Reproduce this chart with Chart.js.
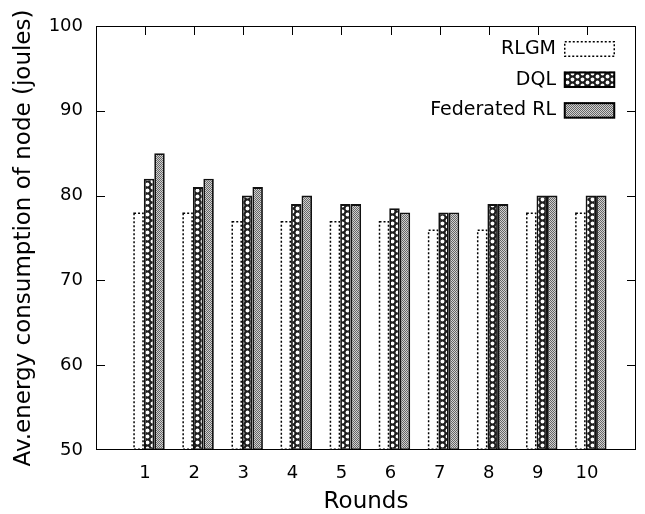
<!DOCTYPE html>
<html>
<head>
<meta charset="utf-8">
<script src="https://cdn.jsdelivr.net/npm/chart.js@4.4.1/dist/chart.umd.min.js"></script>
<style>
  html, body { margin: 0; padding: 0; background: #fff; }
  #wrap { width: 645px; height: 514px; }
</style>
</head>
<body>
<div id="wrap"><canvas id="chart" width="645" height="514"></canvas></div>
<script>
const rounds = [1, 2, 3, 4, 5, 6, 7, 8, 9, 10];
const rlgm = [78, 78, 77, 77, 77, 77, 76, 76, 78, 78];
const dql = [82, 81, 80, 79, 79, 78.5, 78, 79, 80, 80];
const federated = [85, 82, 81, 80, 79, 78, 78, 79, 80, 80];
const seriesNames = ["RLGM", "DQL", "Federated RL"];
const yTicks = [50, 60, 70, 80, 90, 100];

const canvas = document.getElementById("chart");
const ctx = canvas.getContext("2d");

function makePattern(w, h, draw) {
  const c = document.createElement("canvas");
  c.width = w;
  c.height = h;
  draw(c.getContext("2d"));
  return ctx.createPattern(c, "repeat");
}

// dark crosshatch with round holes
const crossPattern = makePattern(10, 6, g => {
  g.fillStyle = "#1c1c1c";
  g.fillRect(0, 0, 10, 6);
  g.fillStyle = "#fff";
  [[2.5, 1.5], [2.5, 7.5], [7.5, 4.5], [7.5, -1.5]].forEach(([cx, cy]) => {
    g.beginPath();
    g.arc(cx, cy, 1.9, 0, Math.PI * 2);
    g.fill();
  });
});

// fine checker gray
const checkPattern = makePattern(2, 2, g => {
  g.fillStyle = "#d0d0d0";
  g.fillRect(0, 0, 2, 2);
  g.fillStyle = "#666";
  g.fillRect(0, 0, 1, 1);
  g.fillRect(1, 1, 1, 1);
});

function points(values) {
  return values.map((v, i) => ({ x: rounds[i], y: v }));
}

const fills = ["#ffffff", crossPattern, checkPattern];

// frame, inward ticks, dotted RLGM outline, legend
const framePlugin = {
  id: "frame",
  beforeDatasetsDraw(chart) {
    const { ctx, chartArea: a, scales } = chart;
    ctx.save();
    ctx.strokeStyle = "#000";
    ctx.lineWidth = 1;
    ctx.beginPath();
    scales.y.ticks.forEach(t => {
      const py = Math.round(scales.y.getPixelForValue(t.value)) + 0.5;
      if (py < a.top + 2 || py > a.bottom - 2) return;
      ctx.moveTo(a.left, py); ctx.lineTo(a.left + 9, py);
      ctx.moveTo(a.right, py); ctx.lineTo(a.right - 9, py);
    });
    rounds.forEach(r => {
      const px = Math.round(scales.xt.getPixelForValue(r)) + 0.5;
      ctx.moveTo(px, a.top); ctx.lineTo(px, a.top + 9);
      ctx.moveTo(px, a.bottom); ctx.lineTo(px, a.bottom - 9);
    });
    ctx.stroke();
    ctx.restore();
  },
  afterDatasetsDraw(chart) {
    const { ctx, chartArea: a } = chart;
    ctx.save();
    ctx.strokeStyle = "#000";
    ctx.lineWidth = 1.5;
    ctx.setLineDash([2, 2]);
    chart.getDatasetMeta(0).data.forEach(bar => {
      const p = bar.getProps(["x", "y", "base", "width"], true);
      ctx.strokeRect(p.x - p.width / 2 + 0.75, p.y + 0.75, p.width - 1.5, p.base - p.y - 1.5);
    });
    ctx.setLineDash([]);
    ctx.lineWidth = 1;
    ctx.strokeRect(a.left + 0.5, a.top + 0.5, a.right - a.left - 1, a.bottom - a.top - 1);

    ctx.font = "19px 'DejaVu Sans'";
    ctx.textAlign = "right";
    ctx.textBaseline = "middle";
    chart.data.datasets.forEach((ds, i) => {
      const cy = a.top + 23 + i * 30.7;
      const bx = a.right - 72;
      ctx.fillStyle = "#000";
      ctx.fillText(ds.label, bx - 8, cy);
      ctx.fillStyle = fills[i];
      ctx.fillRect(bx, cy - 8, 51, 16);
      if (i === 0) {
        ctx.lineWidth = 1.5;
        ctx.setLineDash([2, 2]);
      } else {
        ctx.lineWidth = 2;
        ctx.setLineDash([]);
      }
      ctx.strokeRect(bx + 0.75, cy - 8 + 0.75, 49.5, 14.5);
      ctx.setLineDash([]);
    });
    ctx.restore();
  }
};

new Chart(canvas, {
  type: "bar",
  data: {
    datasets: [
      { label: seriesNames[0], data: points(rlgm), backgroundColor: fills[0], borderWidth: 0 },
      { label: seriesNames[1], data: points(dql), backgroundColor: fills[1], borderColor: "#111", borderWidth: 1.8 },
      { label: seriesNames[2], data: points(federated), backgroundColor: fills[2], borderColor: "#111", borderWidth: 1.8 }
    ]
  },
  options: {
    responsive: false,
    animation: false,
    layout: { padding: { top: 26, right: 9, left: 0, bottom: 0 } },
    datasets: {
      bar: { barPercentage: 1, categoryPercentage: 0.64, borderSkipped: false, base: 50 }
    },
    scales: {
      x: {
        type: "linear",
        display: false,
        offset: false,
        min: -0.08,
        max: 10.92
      },
      xt: {
        type: "linear",
        position: "bottom",
        offset: false,
        min: 0,
        max: 11,
        grid: { display: false, drawTicks: false },
        border: { display: false },
        afterFit: scale => {
          scale.height = 64;
          scale.paddingLeft = 0;
          scale.paddingRight = 0;
        },
        ticks: {
          stepSize: 1,
          padding: 13,
          color: "#000",
          font: { family: "DejaVu Sans", size: 18 },
          callback: v => (rounds.includes(v) ? String(v) : "")
        },
        title: {
          display: true,
          text: "Rounds",
          color: "#000",
          font: { family: "DejaVu Sans", size: 23 },
          padding: { top: 0, bottom: -2 }
        }
      },
      y: {
        min: 50,
        max: 100,
        grid: { display: false, drawTicks: false },
        border: { display: false },
        afterFit: scale => { scale.width = 96; },
        afterBuildTicks: scale => { scale.ticks = yTicks.map(v => ({ value: v })); },
        ticks: {
          padding: 13,
          color: "#000",
          font: { family: "DejaVu Sans", size: 18 }
        },
        title: {
          display: true,
          text: "Av.energy consumption of node (joules)",
          color: "#000",
          font: { family: "DejaVu Sans", size: 23 },
          padding: { top: 10, bottom: 0 }
        }
      }
    },
    plugins: {
      legend: { display: false },
      tooltip: { enabled: false }
    }
  },
  plugins: [framePlugin]
});
</script>
</body>
</html>
